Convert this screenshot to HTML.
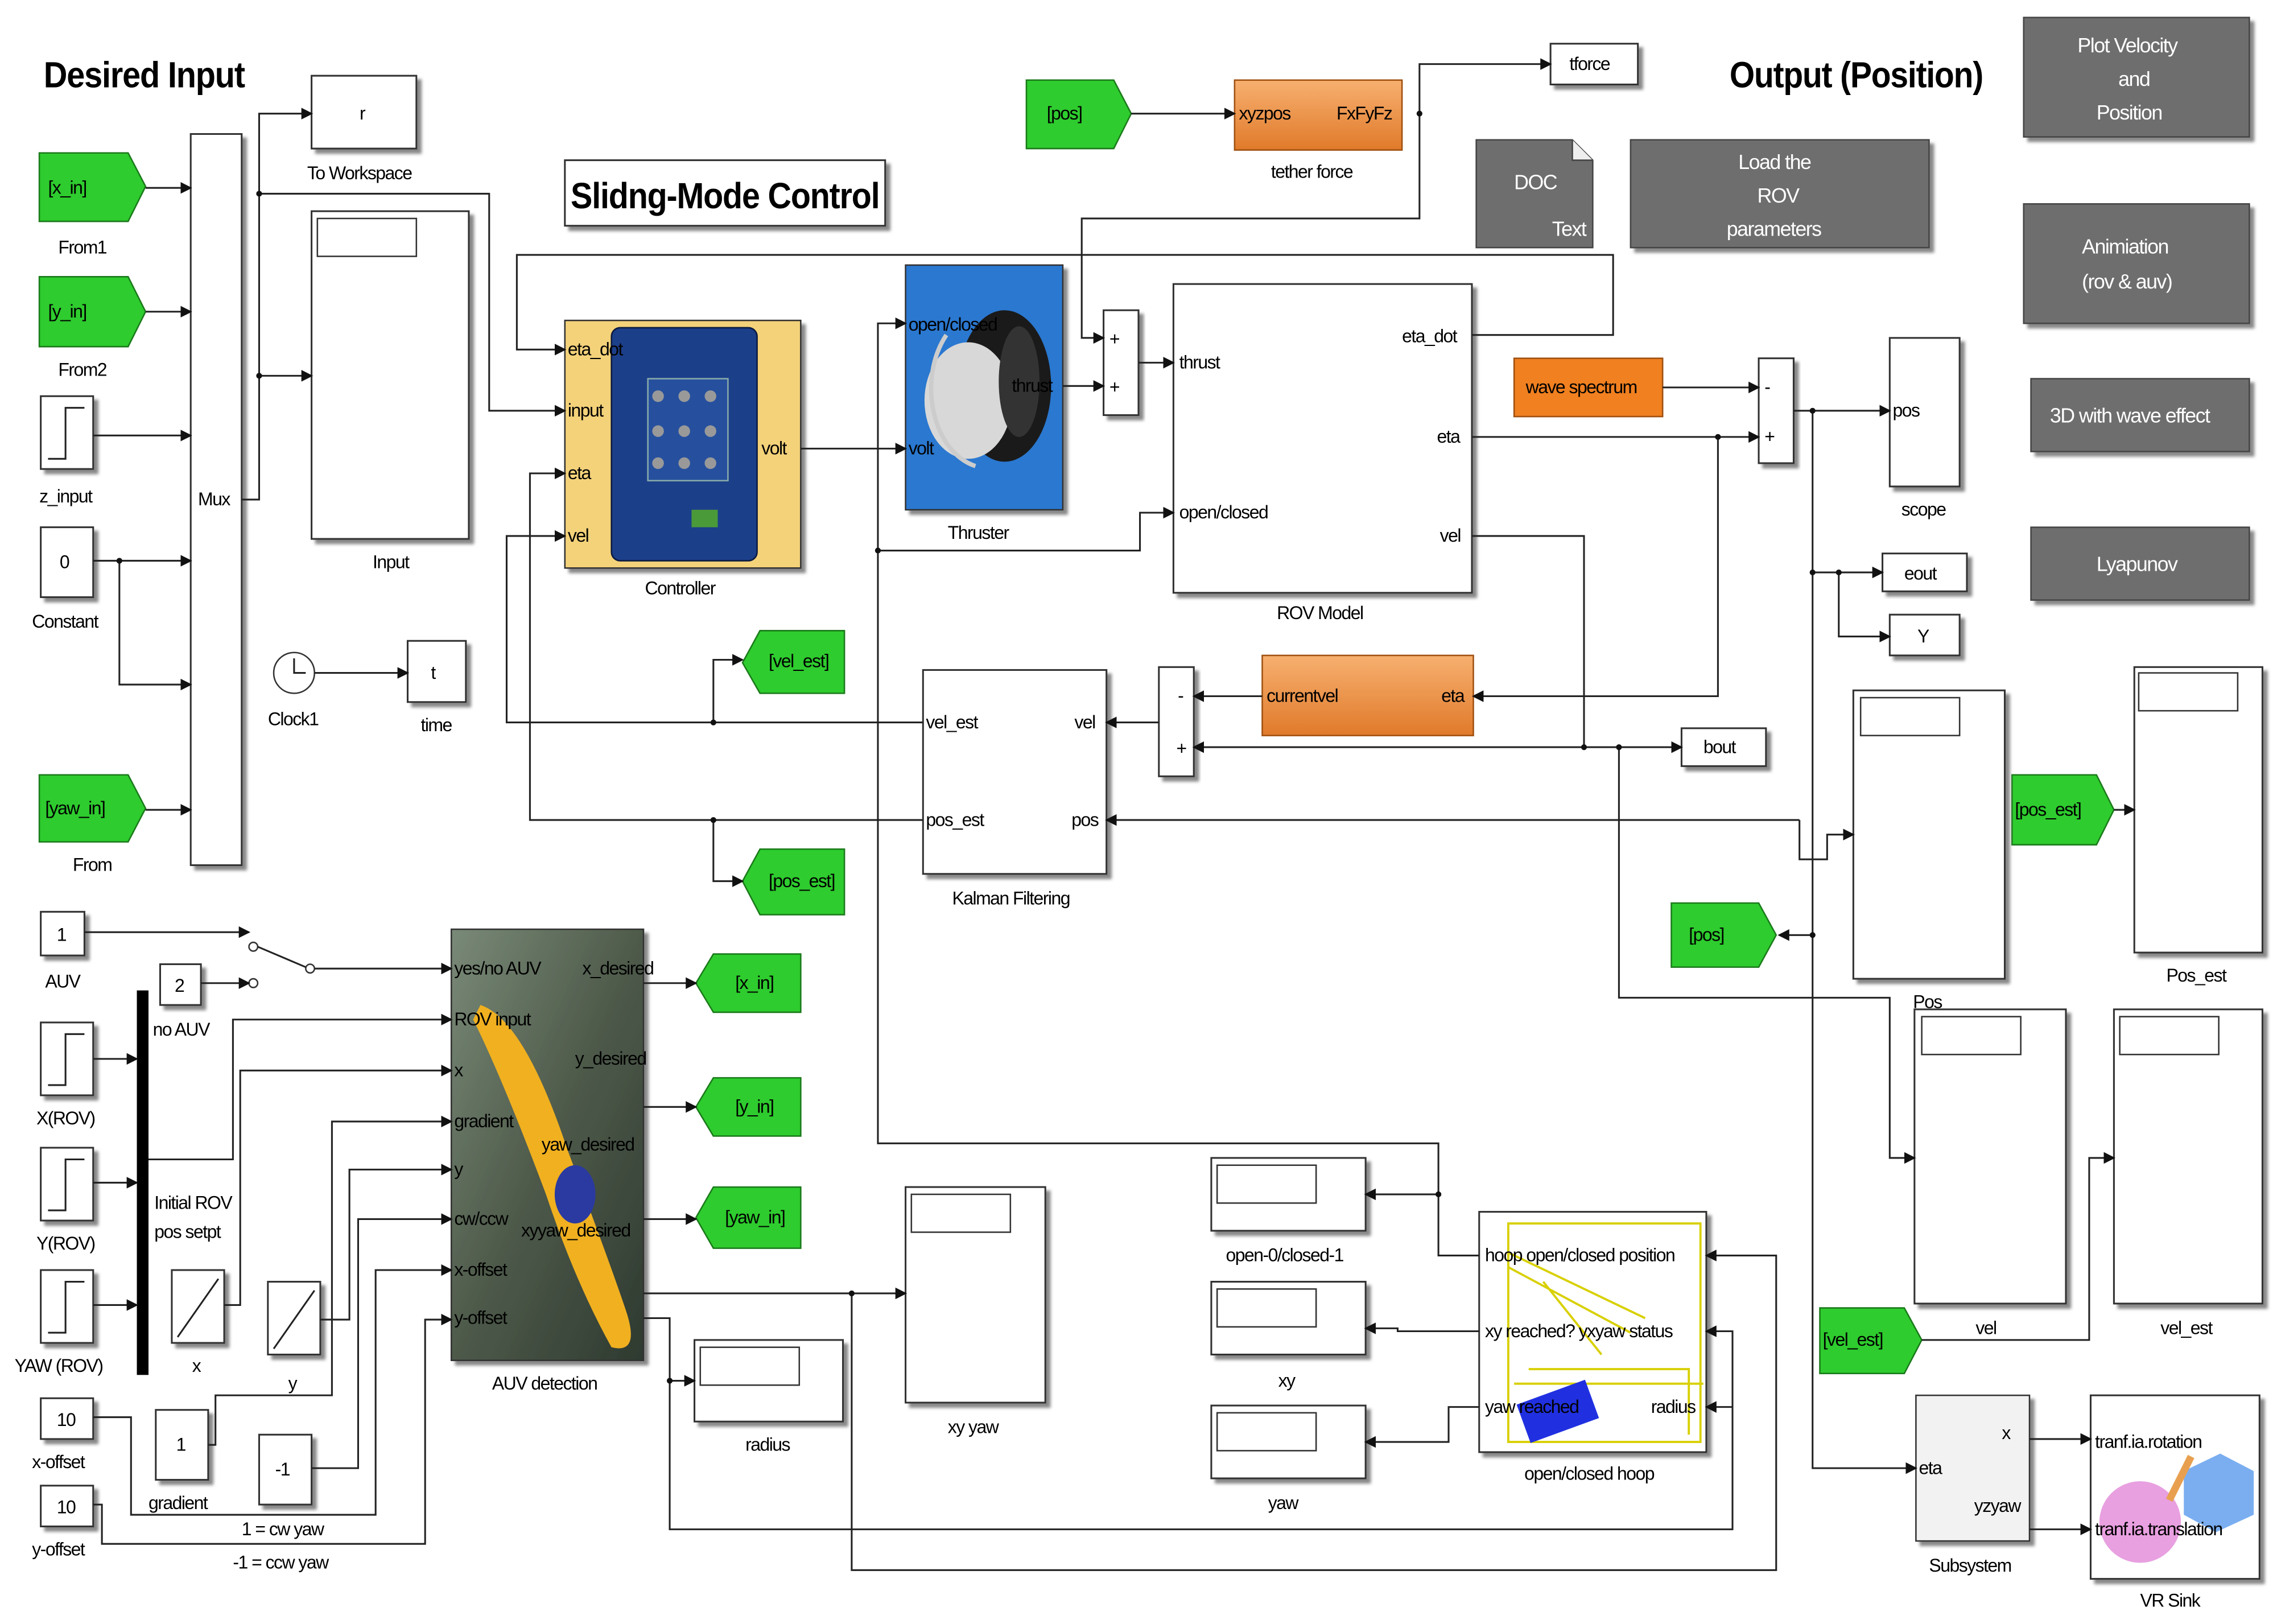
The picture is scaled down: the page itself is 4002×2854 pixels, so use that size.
<!DOCTYPE html>
<html><head><meta charset="utf-8"><style>
html,body{margin:0;padding:0;background:#fff}
svg{display:block}
text{font-family:"Liberation Sans",sans-serif;font-size:12.5px;fill:#000;letter-spacing:-0.6px}
.t{font-size:25px;font-weight:bold;letter-spacing:-0.5px}
.w{fill:#fff;font-size:14px}
.l{fill:none;stroke:#222;stroke-width:1.2}
.b{fill:#fff;stroke:#333;stroke-width:1.2;filter:url(#sh)}
.g{fill:#2ecc2e;stroke:#1a7a1a;stroke-width:1}
.gr{fill:#6e6e6e;stroke:#444;stroke-width:1}
.o{fill:url(#og);stroke:#a05010;stroke-width:1}
</style></head><body>
<svg width="4002" height="2854" viewBox="0 0 1564 1115" preserveAspectRatio="none" xmlns="http://www.w3.org/2000/svg">
<defs>
<marker id="a" markerWidth="8" markerHeight="8" refX="7" refY="4" orient="auto" markerUnits="userSpaceOnUse"><path d="M0,0 L8,4 L0,8z" fill="#111"/></marker>
<filter id="sh" x="-10%" y="-10%" width="130%" height="130%"><feDropShadow dx="3" dy="3" stdDeviation="1" flood-color="#888"/></filter>
<linearGradient id="og" x1="0" y1="0" x2="0" y2="1"><stop offset="0" stop-color="#f7b070"/><stop offset="1" stop-color="#e07a2a"/></linearGradient>
<linearGradient id="auv" x1="0" y1="0" x2="1" y2="1"><stop offset="0" stop-color="#7a8a78"/><stop offset="0.5" stop-color="#4e5a4a"/><stop offset="1" stop-color="#2e3a30"/></linearGradient>
</defs>

<!-- titles -->
<text x="30" y="60" class="t" textLength="138" lengthAdjust="spacingAndGlyphs">Desired Input</text>
<text x="1188" y="60" class="t" textLength="174" lengthAdjust="spacingAndGlyphs">Output (Position)</text>
<rect x="388" y="110" width="220" height="45" class="b"/>
<text x="392" y="143" class="t" textLength="212" lengthAdjust="spacingAndGlyphs">Slidng-Mode Control</text>

<!-- green froms -->
<path d="M27,105 H88 L88,105 L100,128 L88,152 H27z" class="g"/><text x="33" y="133">[x_in]</text><text x="40" y="174">From1</text>
<path d="M27,190 H88 L100,214 L88,238 H27z" class="g"/><text x="33" y="218">[y_in]</text><text x="40" y="258">From2</text>
<path d="M27,532 H88 L100,555 L88,578 H27z" class="g"/><text x="31" y="559">[yaw_in]</text><text x="50" y="598">From</text>
<path d="M705,55 H765 L777,78 L765,102 H705z" class="g"/><text x="719" y="82">[pos]</text>
<path d="M522,433 H580 V476 H522 L510,455z" class="g"/><text x="528" y="458">[vel_est]</text>
<path d="M522,583 H580 V628 H522 L510,605z" class="g"/><text x="528" y="609">[pos_est]</text>
<path d="M1382,532 H1440 L1452,556 L1440,580 H1382z" class="g"/><text x="1384" y="560">[pos_est]</text>
<path d="M1148,620 H1208 L1220,642 L1208,664 H1148z" class="g"/><text x="1160" y="646">[pos]</text>
<path d="M1250,898 H1308 L1320,920 L1308,943 H1250z" class="g"/><text x="1252" y="924">[vel_est]</text>
<path d="M490,655 H550 V695 H490 L478,675z" class="g"/><text x="505" y="679">[x_in]</text>
<path d="M490,740 H550 V780 H490 L478,760z" class="g"/><text x="505" y="764">[y_in]</text>
<path d="M490,815 H550 V857 H490 L478,836z" class="g"/><text x="498" y="840">[yaw_in]</text>

<!-- left blocks -->
<rect x="28" y="272" width="36" height="50" class="b"/><path d="M33,315 H45 V280 H58" class="l"/><text x="27" y="345">z_input</text>
<rect x="28" y="362" width="36" height="48" class="b"/><text x="41" y="390">0</text><text x="22" y="431">Constant</text>
<rect x="131" y="92" width="35" height="502" class="b"/><text x="136" y="347">Mux</text>
<rect x="214" y="52" width="72" height="50" class="b"/><text x="247" y="82">r</text><text x="211" y="123">To Workspace</text>
<rect x="214" y="145" width="108" height="225" class="b"/><rect x="218" y="150" width="68" height="26" fill="#fff" stroke="#333"/><text x="256" y="390">Input</text>
<circle cx="202" cy="462" r="14" fill="#fff" stroke="#333"/><path d="M202,452 V462 H210" class="l"/><text x="184" y="498">Clock1</text>
<rect x="280" y="440" width="40" height="42" class="b"/><text x="296" y="466">t</text><text x="289" y="502">time</text>

<!-- controller -->
<rect x="388" y="220" width="162" height="170" fill="#f4d27a" stroke="#333" filter="url(#sh)"/>
<rect x="420" y="225" width="100" height="160" rx="6" fill="#1c3f8a" stroke="#0a1a40"/>
<rect x="445" y="260" width="55" height="70" fill="#26509e" stroke="#8aa"/>
<g fill="#999"><circle cx="452" cy="272" r="4"/><circle cx="470" cy="272" r="4"/><circle cx="488" cy="272" r="4"/><circle cx="452" cy="296" r="4"/><circle cx="470" cy="296" r="4"/><circle cx="488" cy="296" r="4"/><circle cx="452" cy="318" r="4"/><circle cx="470" cy="318" r="4"/><circle cx="488" cy="318" r="4"/></g>
<rect x="475" y="350" width="18" height="12" fill="#4a9a3a"/>
<text x="390" y="244" fill="#fff">eta_dot</text><text x="390" y="286" fill="#fff">input</text><text x="390" y="329" fill="#fff">eta</text><text x="390" y="372" fill="#fff">vel</text><text x="523" y="312" fill="#fff">volt</text>
<text x="443" y="408">Controller</text>

<!-- thruster -->
<rect x="622" y="182" width="108" height="168" fill="#2a78d0" stroke="#333" filter="url(#sh)"/>
<ellipse cx="690" cy="265" rx="32" ry="52" fill="#1a1a1a"/><ellipse cx="665" cy="275" rx="30" ry="40" fill="#d8d8d8"/><ellipse cx="700" cy="262" rx="14" ry="38" fill="#333"/>
<path d="M650,230 C630,260 640,310 670,320" stroke="#ccc" stroke-width="3" fill="none"/>
<text x="624" y="227">open/closed</text><text x="695" y="269">thrust</text><text x="624" y="312">volt</text><text x="651" y="370">Thruster</text>

<!-- sums -->
<rect x="758" y="213" width="24" height="72" class="b"/><text x="762" y="237">+</text><text x="762" y="270">+</text>
<rect x="1208" y="246" width="24" height="72" class="b"/><text x="1212" y="270">-</text><text x="1212" y="304">+</text>
<rect x="796" y="458" width="24" height="75" class="b"/><text x="809" y="482">-</text><text x="808" y="518">+</text>

<!-- ROV model -->
<rect x="806" y="195" width="205" height="212" class="b"/>
<text x="810" y="253">thrust</text><text x="963" y="235">eta_dot</text><text x="987" y="304">eta</text><text x="989" y="372">vel</text><text x="810" y="356">open/closed</text>
<text x="877" y="425">ROV Model</text>

<!-- top right -->
<rect x="848" y="55" width="115" height="48" class="o"/><text x="851" y="82">xyzpos</text><text x="918" y="82">FxFyFz</text><text x="873" y="122">tether force</text>
<rect x="1065" y="30" width="60" height="28" class="b"/><text x="1078" y="48">tforce</text>
<path d="M1014,96 H1080 L1094,110 V170 H1014z" fill="#6e6e6e" stroke="#444"/><path d="M1080,96 V110 H1094" fill="#eee" stroke="#444"/><text x="1040" y="130" class="w">DOC</text><text x="1066" y="162" class="w">Text</text>
<rect x="1120" y="96" width="205" height="74" class="gr" filter="url(#sh)"/><text x="1194" y="116" class="w">Load the</text><text x="1207" y="139" class="w">ROV</text><text x="1186" y="162" class="w">parameters</text>
<rect x="1390" y="12" width="155" height="82" class="gr" filter="url(#sh)"/><text x="1427" y="36" class="w">Plot Velocity</text><text x="1455" y="59" class="w">and</text><text x="1440" y="82" class="w">Position</text>
<rect x="1390" y="140" width="155" height="82" class="gr" filter="url(#sh)"/><text x="1430" y="174" class="w">Animiation</text><text x="1430" y="198" class="w">(rov &amp; auv)</text>
<rect x="1395" y="260" width="150" height="50" class="gr" filter="url(#sh)"/><text x="1408" y="290" class="w">3D with wave effect</text>
<rect x="1395" y="362" width="150" height="50" class="gr" filter="url(#sh)"/><text x="1440" y="392" class="w">Lyapunov</text>
<rect x="1040" y="246" width="102" height="40" fill="#f08020" stroke="#a05010"/><text x="1048" y="270">wave spectrum</text>
<rect x="1298" y="232" width="48" height="102" class="b"/><text x="1300" y="286">pos</text><text x="1306" y="354">scope</text>
<rect x="1293" y="380" width="58" height="26" class="b"/><text x="1308" y="398">eout</text>
<rect x="1298" y="422" width="48" height="28" class="b"/><text x="1317" y="441">Y</text>

<!-- Kalman / currentvel -->
<rect x="634" y="460" width="126" height="140" class="b"/><text x="636" y="500">vel_est</text><text x="738" y="500">vel</text><text x="636" y="567">pos_est</text><text x="736" y="567">pos</text><text x="654" y="621">Kalman Filtering</text>
<rect x="867" y="450" width="145" height="55" class="o"/><text x="870" y="482">currentvel</text><text x="990" y="482">eta</text>
<rect x="1155" y="500" width="58" height="26" class="b"/><text x="1170" y="517">bout</text>

<!-- right scopes -->
<rect x="1273" y="474" width="104" height="198" class="b"/><rect x="1278" y="479" width="68" height="26" fill="#fff" stroke="#333"/><text x="1314" y="692">Pos</text>
<rect x="1466" y="458" width="88" height="196" class="b"/><rect x="1469" y="462" width="68" height="26" fill="#fff" stroke="#333"/><text x="1488" y="674">Pos_est</text>
<rect x="1315" y="693" width="104" height="202" class="b"/><rect x="1320" y="698" width="68" height="26" fill="#fff" stroke="#333"/><text x="1357" y="916">vel</text>
<rect x="1452" y="693" width="102" height="202" class="b"/><rect x="1456" y="698" width="68" height="26" fill="#fff" stroke="#333"/><text x="1484" y="916">vel_est</text>
<rect x="1316" y="958" width="78" height="100" fill="#f2f2f2" stroke="#333" filter="url(#sh)"/><text x="1318" y="1012">eta</text><text x="1375" y="988">x</text><text x="1356" y="1038">yzyaw</text><text x="1325" y="1079">Subsystem</text>
<rect x="1436" y="958" width="116" height="126" class="b"/><circle cx="1470" cy="1045" r="28" fill="#e8a0e0"/><path d="M1500,1010 L1525,998 L1548,1010 L1548,1040 L1522,1052 L1500,1040z" fill="#7aaef0"/><path d="M1490,1030 L1505,1000" stroke="#e8a050" stroke-width="5"/>
<text x="1439" y="994">tranf.ia.rotation</text><text x="1439" y="1054">tranf.ia.translation</text><text x="1470" y="1103">VR Sink</text>

<!-- bottom middle -->
<rect x="310" y="638" width="132" height="296" fill="url(#auv)" stroke="#333" filter="url(#sh)"/>
<path d="M330,690 Q360,700 390,790 Q420,870 430,900 Q440,930 420,925 Q395,880 375,820 Q345,740 325,700z" fill="#f0b020"/><ellipse cx="395" cy="820" rx="14" ry="20" fill="#2a3aa0"/>
<g fill="#fff"><text x="312" y="669">yes/no AUV</text><text x="400" y="669">x_desired</text><text x="312" y="704">ROV input</text><text x="395" y="731">y_desired</text><text x="312" y="739">x</text><text x="312" y="774">gradient</text><text x="372" y="790">yaw_desired</text><text x="312" y="807">y</text><text x="358" y="849">xyyaw_desired</text><text x="312" y="841">cw/ccw</text><text x="312" y="876">x-offset</text><text x="312" y="909">y-offset</text></g>
<text x="338" y="954">AUV detection</text>
<rect x="622" y="815" width="96" height="148" class="b"/><rect x="626" y="820" width="68" height="26" fill="#fff" stroke="#333"/><text x="651" y="984">xy yaw</text>
<rect x="477" y="920" width="102" height="56" class="b"/><rect x="481" y="925" width="68" height="26" fill="#fff" stroke="#333"/><text x="512" y="996">radius</text>
<rect x="832" y="795" width="106" height="50" class="b"/><rect x="836" y="800" width="68" height="26" fill="#fff" stroke="#333"/><text x="842" y="866">open-0/closed-1</text>
<rect x="832" y="880" width="106" height="50" class="b"/><rect x="836" y="885" width="68" height="26" fill="#fff" stroke="#333"/><text x="878" y="952">xy</text>
<rect x="832" y="965" width="106" height="50" class="b"/><rect x="836" y="970" width="68" height="26" fill="#fff" stroke="#333"/><text x="871" y="1036">yaw</text>
<rect x="1016" y="832" width="156" height="165" class="b"/>
<g stroke="#d8d000" fill="none" stroke-width="1.5"><rect x="1036" y="840" width="132" height="150"/><path d="M1036,860 L1130,905 M1036,870 L1120,915 M1050,940 H1160 V985 M1040,950 H1170 M1060,880 L1100,930"/></g>
<rect x="1045" y="955" width="50" height="28" fill="#2030e0" transform="rotate(-20 1070 969)"/>
<text x="1020" y="866">hoop open/closed position</text><text x="1020" y="918">xy reached? yxyaw status</text><text x="1020" y="970">yaw reached</text><text x="1134" y="970">radius</text>
<text x="1047" y="1016">open/closed hoop</text>

<!-- bottom left -->
<rect x="28" y="626" width="30" height="30" class="b"/><text x="39" y="646">1</text><text x="31" y="678">AUV</text>
<rect x="110" y="662" width="28" height="28" class="b"/><text x="120" y="681">2</text><text x="105" y="711">no AUV</text>
<circle cx="174" cy="650" r="3" fill="none" stroke="#333"/><circle cx="174" cy="675" r="3" fill="none" stroke="#333"/><circle cx="213" cy="665" r="3" fill="none" stroke="#333"/><path d="M177,650 L210,664" class="l"/>
<rect x="28" y="702" width="36" height="50" class="b"/><path d="M33,745 H45 V710 H58" class="l"/><text x="25" y="772">X(ROV)</text>
<rect x="28" y="788" width="36" height="50" class="b"/><path d="M33,831 H45 V796 H58" class="l"/><text x="25" y="858">Y(ROV)</text>
<rect x="28" y="872" width="36" height="50" class="b"/><path d="M33,915 H45 V880 H58" class="l"/><text x="10" y="942">YAW (ROV)</text>
<rect x="94" y="680" width="8" height="264" fill="#000"/>
<text x="106" y="830">Initial ROV</text><text x="106" y="850">pos setpt</text>
<rect x="118" y="872" width="36" height="50" class="b"/><path d="M122,918 L150,878" class="l"/><text x="132" y="942">x</text>
<rect x="184" y="880" width="36" height="50" class="b"/><path d="M188,926 L216,886" class="l"/><text x="198" y="954">y</text>
<rect x="28" y="960" width="36" height="28" class="b"/><text x="39" y="979">10</text><text x="22" y="1008">x-offset</text>
<rect x="28" y="1020" width="36" height="28" class="b"/><text x="39" y="1039">10</text><text x="22" y="1068">y-offset</text>
<rect x="107" y="968" width="36" height="48" class="b"/><text x="121" y="996">1</text><text x="102" y="1036">gradient</text>
<rect x="178" y="985" width="36" height="48" class="b"/><text x="189" y="1013">-1</text>
<text x="166" y="1054">1 = cw yaw</text><text x="160" y="1077">-1 = ccw yaw</text>

<!-- connectors -->
<g class="l" marker-end="url(#a)">
<path d="M100,129 H131"/><path d="M100,214 H131"/><path d="M64,299 H131"/><path d="M64,385 H131"/><path d="M82,385 V470 H131"/><path d="M100,556 H131"/>
<path d="M166,343 H178 V78 H214"/><path d="M178,133 H336 V282 H388"/><path d="M178,258 H214"/>
<path d="M216,462 H280"/>
<path d="M1011,230 H1108 V175 H355 V240 H388"/>
<path d="M634,563 H364 V325 H388"/><path d="M490,563 V605 H510"/>
<path d="M634,496 H348 V368 H388"/><path d="M490,496 V453 H510"/>
<path d="M550,308 H622"/><path d="M730,265 H758"/><path d="M782,249 H806"/>
<path d="M975,78 V44 H1065"/><path d="M975,78 V150 H743 V232 H758"/><path d="M777,78 H848"/>
<path d="M603,378 V222 H622"/><path d="M1016,862 H988 V785 H603 V378 H783 V352 H806"/><path d="M988,820 H938"/>
<path d="M1016,914 H960 V912 H938"/><path d="M1016,966 H995 V990 H938"/>
<path d="M1011,300 H1208"/><path d="M1180,300 V478 H1012"/><path d="M1142,266 H1208"/>
<path d="M1232,282 H1298"/><path d="M1245,393 H1293"/><path d="M1263,393 V437 H1298"/><path d="M1245,282 V1008 H1316"/><path d="M1245,642 H1222"/>
<path d="M1011,368 H1088 V513 H1155"/><path d="M1088,513 H820"/><path d="M1112,513 V685 H1298 V795 H1315"/>
<path d="M867,478 H820"/><path d="M796,496 H760"/>
<path d="M1236,563 H760"/><path d="M1236,563 V590 H1255 V573 H1273"/>
<path d="M1452,556 H1466"/><path d="M1320,920 H1435 V795 H1452"/>
<path d="M1394,988 H1436"/><path d="M1394,1050 H1436"/>
<path d="M442,675 H478"/><path d="M442,760 H478"/><path d="M442,837 H478"/>
<path d="M442,888 H622"/><path d="M442,905 H460 V948 H477"/><path d="M460,948 V1050 H1190 V966 H1172"/>
<path d="M585,888 V1078 H1220 V862 H1172"/><path d="M1190,966 V914 H1172"/>
<path d="M216,665 H310"/><path d="M58,640 H171"/><path d="M138,675 H171"/>
<path d="M102,796 H160 V700 H310"/><path d="M154,896 H165 V735 H310"/><path d="M143,992 H148 V958 H228 V770 H310"/>
<path d="M220,906 H240 V803 H310"/><path d="M214,1008 H246 V837 H310"/>
<path d="M64,973 H90 V1040 H258 V872 H310"/><path d="M64,1033 H70 V1060 H292 V906 H310"/>
<path d="M64,727 H94"/><path d="M64,812 H94"/><path d="M64,896 H94"/>
</g>
<g fill="#111"><circle cx="82" cy="385" r="2"/><circle cx="178" cy="133" r="2"/><circle cx="178" cy="258" r="2"/><circle cx="975" cy="78" r="2"/><circle cx="490" cy="563" r="2"/><circle cx="490" cy="496" r="2"/><circle cx="603" cy="378" r="2"/><circle cx="988" cy="820" r="2"/><circle cx="1180" cy="300" r="2"/><circle cx="1245" cy="282" r="2"/><circle cx="1245" cy="393" r="2"/><circle cx="1263" cy="393" r="2"/><circle cx="1088" cy="513" r="2"/><circle cx="1112" cy="513" r="2"/><circle cx="1245" cy="642" r="2"/><circle cx="460" cy="948" r="2"/><circle cx="585" cy="888" r="2"/></g>
</svg>
</body></html>
